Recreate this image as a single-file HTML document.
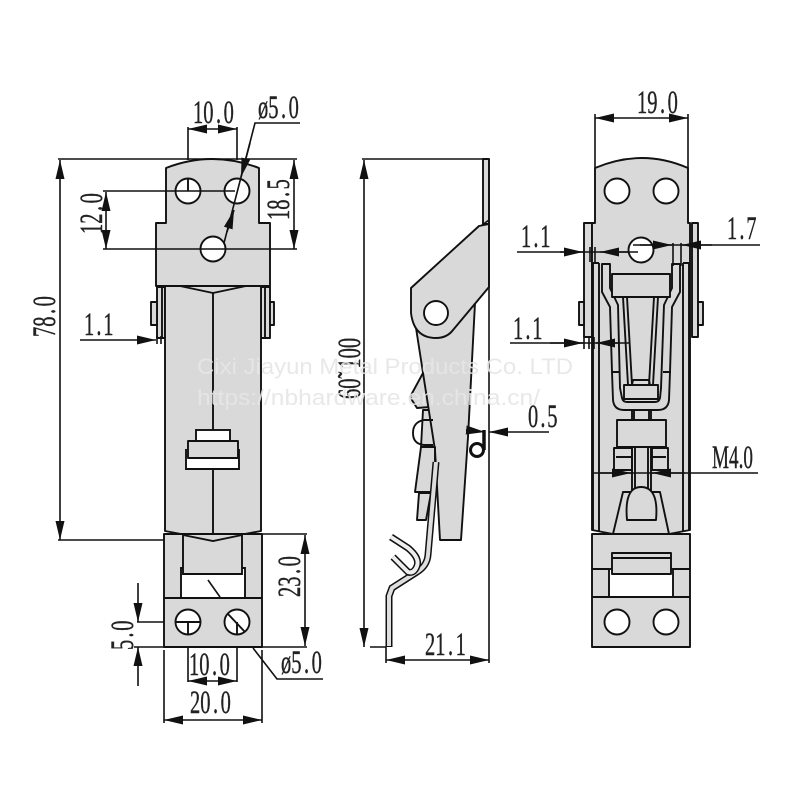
<!DOCTYPE html>
<html><head><meta charset="utf-8"><style>
html,body{margin:0;padding:0;background:#fff}
svg{display:block}
.s{stroke:#111;stroke-width:1.9;fill:none;stroke-linejoin:round}
.g{stroke:#111;stroke-width:1.9;fill:#d9d9d9;stroke-linejoin:round}
.w{stroke:#111;stroke-width:1.9;fill:#fff}
.d{stroke:#111;stroke-width:1.6;fill:none}
.a{stroke:#111;stroke-width:1.6;fill:none;marker-end:url(#m);marker-start:url(#m)}
.e{stroke:#111;stroke-width:1.6;fill:none;marker-end:url(#m)}
text{font-family:"Liberation Serif",serif;font-size:33px;fill:#222;stroke:#222;stroke-width:.4}
text.wm{font-family:"Liberation Sans",sans-serif;font-size:22px;fill:#e6e6e6;fill-opacity:.9;stroke:none}
</style></head><body>
<svg width="800" height="800" viewBox="0 0 800 800" xmlns="http://www.w3.org/2000/svg">
<defs>
<marker id="m" markerUnits="userSpaceOnUse" markerWidth="20" markerHeight="11" refX="19" refY="5" orient="auto-start-reverse"><path d="M0 .5L19 5L0 9.5z" fill="#111"/></marker>
</defs>

<!-- LEFT VIEW -->
<rect class="g" x="157" y="287" width="8" height="51"/><line class="s" x1="162" y1="287" x2="162" y2="338"/>
<rect class="g" x="151" y="302" width="6" height="23"/>
<rect class="g" x="261" y="287" width="9" height="51"/><line class="s" x1="265" y1="287" x2="265" y2="338"/>
<rect class="g" x="270" y="302" width="4" height="23"/>
<path class="g" d="M165 286L261 286L261 531L213 540L165 531Z"/>
<path class="s" d="M180 286L213 293L246 286"/>
<path class="g" d="M166 168Q212 150 259 168L259 223L270 223L270 286L156 286L156 223L166 223Z"/>
<line class="s" x1="213" y1="293" x2="213" y2="430"/>
<line class="s" x1="213" y1="469" x2="213" y2="540"/>
<rect class="w" x="196" y="430" width="34" height="11"/>
<path class="w" d="M186 449L186 469L239 469L239 449"/>
<rect class="g" x="188" y="441" width="50" height="17"/>
<circle class="w" cx="188" cy="191" r="12.5"/><circle class="w" cx="237" cy="191" r="12.5"/><circle class="w" cx="213" cy="249" r="12.5"/>
<line class="s" x1="188" y1="179" x2="188" y2="191"/>

<rect class="g" x="164" y="534" width="98" height="113"/>
<path class="w" d="M181 598L181 568L245 568L245 598Z"/>
<path d="M183 535L183 574L242 574L242 535L213 541Z" fill="#d9d9d9" stroke="#111" stroke-width="1.9"/>
<line class="s" x1="165" y1="534" x2="183" y2="534"/><line class="s" x1="242" y1="534" x2="262" y2="534"/>
<line class="s" x1="164" y1="598" x2="262" y2="598"/>
<line class="d" x1="208" y1="580" x2="220" y2="597"/>
<circle class="w" cx="188" cy="622" r="12.5"/><circle class="w" cx="237" cy="622" r="12.5"/>
<path class="s" d="M176 622L200 622M188 622L188 634M228 614L245 632M237 622L237 634"/>

<!-- left dims -->
<path class="d" d="M58 159L297 159M58 540L164 540M188 127L188 160M237 127L237 160M103 191L235 191M103 249L297 249M262 534L307 534M262 647L307 647M137 622L164 622M134 647L164 647M188 647L188 682M237 647L237 682M164 650L164 723M262 650L262 723M300 123L255 123L224 243M323 679L277 679L253 648"/>
<line class="a" x1="60" y1="160" x2="60" y2="540"/>
<line class="a" x1="188" y1="129" x2="237" y2="129"/>
<line class="a" x1="106" y1="192" x2="106" y2="249"/>
<line class="a" x1="294" y1="160" x2="294" y2="249"/>
<line class="a" x1="305" y1="535" x2="305" y2="646"/>
<line class="a" x1="188" y1="681" x2="237" y2="681"/>
<line class="a" x1="164" y1="720" x2="262" y2="720"/>
<line class="e" x1="138" y1="583" x2="138" y2="622"/>
<line class="e" x1="138" y1="686" x2="138" y2="647"/>
<line class="e" x1="80" y1="340" x2="156" y2="340"/>
<line class="e" x1="227" y1="232" x2="234" y2="210"/>
<line class="e" x1="250" y1="143" x2="241" y2="177"/>
<path class="d" d="M157 336L157 344M161 336L161 344"/>

<text transform="translate(193,123) scale(.62,1)" x="0 16.5 37 49.5">10.0</text>
<text transform="translate(258,118) scale(.62,1)" x="0 16.5 37 49.5">ø5.0</text>
<text transform="translate(102,234) rotate(-90) scale(.62,1)" x="0 16.5 37 49.5">12.0</text>
<text transform="translate(289,220) rotate(-90) scale(.62,1)" x="0 16.5 37 49.5">18.5</text>
<text transform="translate(55,337) rotate(-90) scale(.62,1)" x="0 16.5 37 49.5">78.0</text>
<text transform="translate(84,335) scale(.62,1)" x="0 20 31">1.1</text>
<text transform="translate(300,597) rotate(-90) scale(.62,1)" x="0 16.5 37 49.5">23.0</text>
<text transform="translate(133,650) rotate(-90) scale(.62,1)" x="0 20 31">5.0</text>
<text transform="translate(189,675) scale(.62,1)" x="0 16.5 37 49.5">10.0</text>
<text transform="translate(190,713) scale(.62,1)" x="0 16.5 37 49.5">20.0</text>
<text transform="translate(281,673) scale(.62,1)" x="0 16.5 37 49.5">ø5.0</text>

<!-- SIDE VIEW -->
<rect class="g" x="483" y="159" width="6" height="65"/>
<path class="g" d="M423 373L410 397L417 408L430 407Z"/>
<path class="g" d="M423 410L433 410L435 447L421 447Z"/>
<path class="g" d="M414 315L435 450L440 540L461 540L468 437L475 303L450 290Z"/>
<path class="g" d="M489 224L479 226L411 288L411 313Q414 338 436 338Q447 338 453 330L489 287Z"/>
<circle class="w" cx="436" cy="313" r="12"/>
<path class="d" d="M482 225L489 220"/>
<path class="s" d="M433 420L424 420Q413 422 413 433Q413 444 424 445L433 445"/>
<path class="g" d="M421 447L435 447L435 492L415 492Z"/>
<path class="g" d="M419 493L431 493L426 520L417 520Z"/>
<path d="M436 462L428 555Q427 566 417 572L392 588L389 596L389 647" fill="none" stroke="#111" stroke-width="7"/>
<path d="M436 462L428 555Q427 566 417 572L392 588L389 596L389 646" fill="none" stroke="#dedede" stroke-width="4"/>
<path d="M391 537L408 548Q420 558 417 566Q414 574 408 572L393 557" fill="none" stroke="#111" stroke-width="7"/>
<path d="M391 537L408 548Q420 558 417 566Q414 574 408 572L393 557" fill="none" stroke="#eee" stroke-width="4"/>
<path d="M484 430L484 450" stroke="#111" stroke-width="3.5" fill="none"/>
<circle cx="477" cy="450" r="6.5" fill="#fff" stroke="#111" stroke-width="3"/>

<path class="d" d="M362 159L483 159M489 159L489 663M370 647L386 647M386 647L386 663"/>
<line class="a" x1="364" y1="160" x2="364" y2="647"/>
<line class="a" x1="386" y1="660" x2="489" y2="660"/>
<line class="e" x1="549" y1="432" x2="489" y2="432"/>
<line class="e" x1="466" y1="430" x2="485" y2="432"/>
<text transform="translate(360,399) rotate(-90) scale(.62,1)" x="0 16.5 33 49 65.5 82">60˜100</text>
<text transform="translate(425,655) scale(.62,1)" x="0 16.5 37 49.5">21.1</text>
<text transform="translate(528,427) scale(.62,1)" x="0 20 31">0.5</text>

<!-- RIGHT VIEW -->
<rect class="g" x="584" y="223" width="8" height="114"/><rect class="g" x="579" y="302" width="5" height="23"/>
<rect class="g" x="692" y="223" width="6" height="114"/><rect class="g" x="698" y="302" width="5" height="23"/>
<path class="g" d="M595 168Q642 148 688 168L688 223L690 223L690 530L669 534L613 534L592 530L592 223L595 223Z"/>
<path class="s" d="M593 263L593 530M599 263L599 532M683 263L683 532M689 263L689 530M593 263L599 263M683 263L689 263"/>
<circle class="w" cx="617" cy="191" r="12.5"/><circle class="w" cx="666" cy="191" r="12.5"/><circle class="w" cx="641" cy="250" r="12.5"/>
<path class="s" d="M602 264L602 292L610 307L612 372L613 400Q614 410 624 410L658 410Q668 410 669 400L670 372L672 307L680 292L680 264L672 264L672 288L664 305L661 388L660 398Q659 402 655 402L627 402Q623 402 622 398L620 388L618 305L610 288L610 264Z"/>
<rect class="g" x="612" y="274" width="58" height="23"/>
<path class="s" d="M623 297L628 385M627 297L632 385M658 297L653 385M654 297L649 385M612 372L620 372M663 372L671 372"/>
<path class="s" d="M632 385L633 380L649 380L650 385"/>
<rect class="g" x="624" y="385" width="34" height="14"/>
<path class="s" d="M632 410L632 420M634 410L634 420M649 410L649 420M651 410L651 420"/>
<path class="g" d="M623 492L660 492L669 534L613 534Z"/>
<rect class="g" x="614" y="448" width="18" height="22"/><rect class="g" x="652" y="448" width="16" height="22"/>
<path class="s" d="M616 457L632 457M652 457L666 457"/>
<rect class="g" x="617" y="420" width="49" height="27"/>
<path class="s" d="M632 447L632 495M635 447L635 495M648 447L648 495M651 447L651 495"/>
<path class="g" d="M627 520Q624 487 641 487Q659 487 656 520Z"/>
<rect class="g" x="592" y="534" width="98" height="113"/>
<path class="s" d="M592 569L609 569M673 569L690 569"/>
<rect class="w" x="609" y="569" width="64" height="28"/>
<rect class="g" x="612" y="553" width="59" height="21"/>
<line class="s" x1="612" y1="558" x2="671" y2="558"/>
<line class="s" x1="592" y1="597" x2="690" y2="597"/>
<circle class="w" cx="617" cy="622" r="12.5"/><circle class="w" cx="666" cy="622" r="12.5"/>

<path class="d" d="M595 114L595 168M688 114L688 168M517 252L638 252M633 245L760 245M590 247L590 262M595 247L595 262M673 243L673 266M681 243L681 266M510 343L629 343M584 337L584 349M589 337L589 349M594 337L594 349M592 473L758 473"/>
<line class="a" x1="595" y1="118" x2="688" y2="118"/>
<line class="e" x1="560" y1="252" x2="583" y2="252"/>
<line class="e" x1="628" y1="252" x2="600" y2="252"/>
<line class="e" x1="640" y1="245" x2="672" y2="245"/>
<line class="e" x1="712" y1="245" x2="682" y2="245"/>
<line class="e" x1="550" y1="343" x2="583" y2="343"/>
<line class="e" x1="620" y1="343" x2="596" y2="343"/>
<line class="e" x1="600" y1="473" x2="631" y2="473"/>
<line class="e" x1="685" y1="473" x2="652" y2="473"/>
<text transform="translate(637,113) scale(.62,1)" x="0 16.5 37 49.5">19.0</text>
<text transform="translate(521,247) scale(.62,1)" x="0 20 31">1.1</text>
<text transform="translate(727,239) scale(.62,1)" x="0 20 31">1.7</text>
<text transform="translate(513,339) scale(.62,1)" x="0 20 31">1.1</text>
<text x="712" y="468" textLength="41" lengthAdjust="spacingAndGlyphs">M4.0</text>

<!-- watermark -->
<text class="wm" x="197" y="374" textLength="376" lengthAdjust="spacingAndGlyphs">Cixi Jiayun Metal Products Co. LTD</text>
<text class="wm" x="197" y="405" textLength="343" lengthAdjust="spacingAndGlyphs">https://nbhardware.en.china.cn/</text>
</svg>
</body></html>
